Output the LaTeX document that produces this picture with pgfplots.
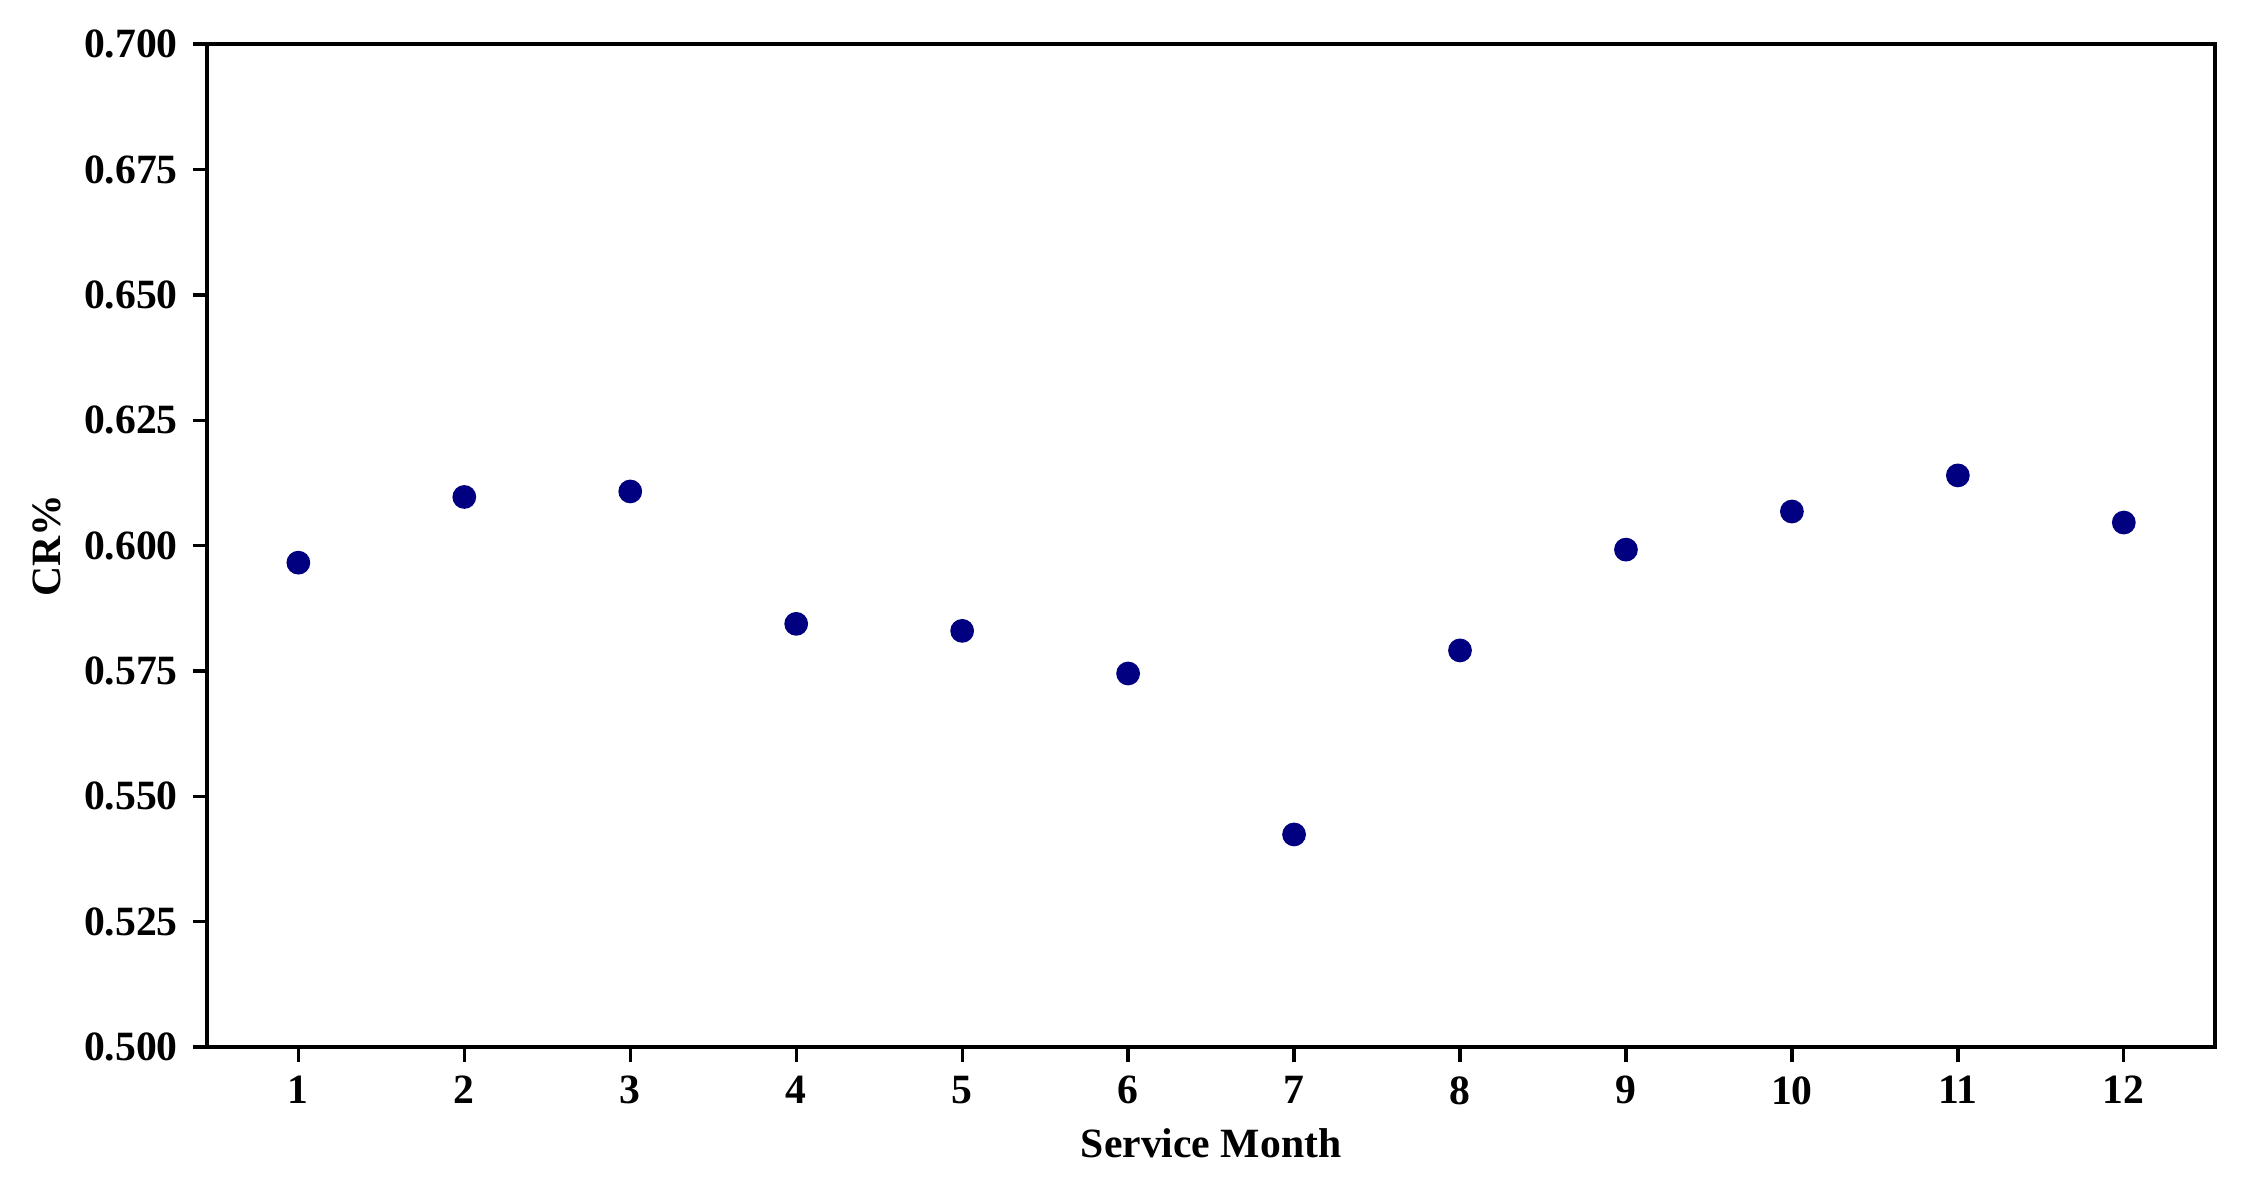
\documentclass[border=0pt]{standalone}
\usepackage{fontspec}
\setmainfont{Liberation Serif}
\usepackage{pgfplots}
\pgfplotsset{compat=1.18}
\definecolor{navyc}{HTML}{000080}
\begin{document}
\begin{tikzpicture}
\begin{axis}[
  scale only axis,
  width=481.9pt, height=240.7pt,
  xmin=0.45, xmax=12.55,
  ymin=0.5, ymax=0.7,
  xtick={1,2,3,4,5,6,7,8,9,10,11,12},
  ytick={0.5,0.525,0.55,0.575,0.6,0.625,0.65,0.675,0.7},
  yticklabel style={/pgf/number format/fixed, /pgf/number format/fixed zerofill, /pgf/number format/precision=3},
  /pgf/number format/assume math mode=true,
  tick label style={font=\fontsize{10}{12}\selectfont\bfseries},
  tick align=outside,
  tick pos=left,
  major tick length=3.5pt,
  axis line style={line width=0.8pt},
  tick style={line width=0.8pt, black},
  xlabel={Service Month},
  ylabel={CR\%},
  label style={font=\fontsize{10}{12}\selectfont\bfseries},
  xlabel style={at={(axis description cs:0.5,-0.0957)}, anchor=center},
  ylabel style={at={(axis description cs:-0.0797,0.5)}, anchor=center},
  clip=false,
]
\addplot[only marks, mark=*, mark size=2.65pt, color=navyc, mark options={draw=navyc, fill=navyc}] coordinates {
(1,0.5966) (2,0.6097) (3,0.6108) (4,0.5844) (5,0.5830) (6,0.5745)
(7,0.5424) (8,0.5791) (9,0.5992) (10,0.6068) (11,0.6140) (12,0.6046)
};
\end{axis}
\pgfresetboundingbox
\path[use as bounding box] ([xshift=-49.7pt,yshift=-36pt]current axis.south west) rectangle ([xshift=6.7pt,yshift=10.6pt]current axis.north east);
\end{tikzpicture}
\end{document}
